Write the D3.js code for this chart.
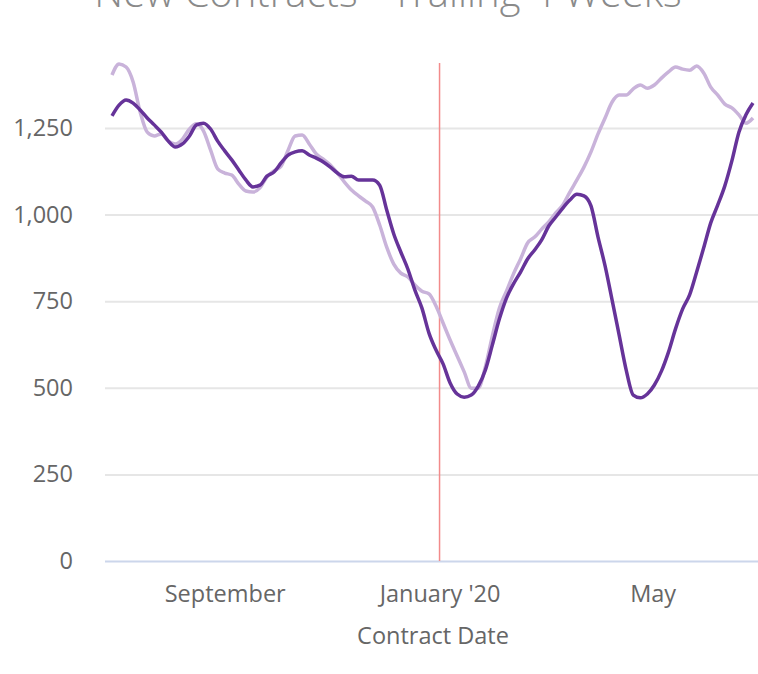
<!DOCTYPE html>
<html><head><meta charset="utf-8">
<script src="https://cdn.jsdelivr.net/npm/d3@7"></script>
<style>body{margin:0;background:#fff}svg{display:block}</style>
</head><body>
<svg id="chart" width="758" height="674"></svg>
<script>
const titleText = "New Contracts - Trailing 4 Weeks";
const xAxisTitle = "Contract Date";
const startDate = "2019-06-29";
const stepDays = 4;
const darkValues = [1285,1316,1331,1322,1302,1279,1259,1238,1212,1195,1204,1227,1259,1264,1247,1212,1184,1158,1129,1100,1080,1085,1111,1123,1149,1172,1181,1184,1172,1163,1152,1137,1120,1109,1111,1100,1100,1100,1085,1013,944,892,843,782,730,658,609,569,514,482,473,479,505,551,624,699,759,800,834,872,898,927,967,993,1019,1042,1059,1054,1025,935,852,753,652,551,479,471,482,508,548,603,670,727,768,834,904,976,1028,1083,1155,1238,1288,1322];
const lightValues = [1403,1435,1426,1383,1296,1238,1227,1233,1212,1204,1218,1247,1262,1241,1186,1132,1120,1114,1088,1068,1065,1077,1109,1126,1140,1186,1227,1230,1204,1175,1160,1143,1120,1094,1071,1054,1039,1022,970,906,857,831,820,797,779,771,736,687,638,592,546,499,499,560,650,730,779,829,872,918,935,958,979,1005,1028,1065,1100,1137,1181,1233,1279,1325,1345,1345,1363,1374,1365,1374,1394,1412,1426,1420,1417,1429,1409,1368,1345,1319,1308,1288,1264,1279];
const yTicks = [0,250,500,750,1000,1250];
const xTickDates = ["2019-09-01","2020-01-01","2020-05-01"];
const xTickLabels = ["September","January '20","May"];
const markerDate = "2020-01-01";

const parse = d3.timeParse("%Y-%m-%d");
const start = parse(startDate);
const dates = darkValues.map((_, i) => d3.timeDay.offset(start, i * stepDays));
const darkData = dates.map((d, i) => ({date: d, value: darkValues[i]}));
const lightData = dates.map((d, i) => ({date: d, value: lightValues[i]}));

const svg = d3.select("#chart");
const font = "'Open Sans', 'Noto Sans', sans-serif";
const plotLeft = 105, plotRight = 758, plotTop = 63, plotBottom = 561;

const x = d3.scaleTime().domain([dates[0], dates[dates.length - 1]]).range([112, 753]);
const y = d3.scaleLinear().domain([0, 1250]).range([561, 128]);

// title (cut off at top, as in the reference)
svg.append("text").attr("x", 388).attr("y", 7).attr("text-anchor", "middle")
  .attr("font-family", font).attr("font-weight", 300).attr("font-size", 40)
  .attr("fill", "#8a8a8a").text(titleText);

// grid
const yAxis = d3.axisLeft(y).tickValues(yTicks).tickSize(-(plotRight - plotLeft)).tickPadding(32)
  .tickFormat(d3.format(","));
const gy = svg.append("g").attr("transform", `translate(${plotLeft},0)`).call(yAxis);
gy.select(".domain").remove();
gy.selectAll(".tick line").attr("stroke", "#e6e6e6").attr("stroke-width", 2)
  .filter(d => d === 0).attr("stroke", "#ccd6eb");
gy.selectAll(".tick text").attr("font-family", font).attr("font-size", 23.5).attr("fill", "#666");

// marker line
svg.append("line").attr("x1", x(parse(markerDate))).attr("x2", x(parse(markerDate)))
  .attr("y1", plotTop).attr("y2", plotBottom).attr("stroke", "#f28b8b").attr("stroke-width", 1.5);

// x axis
const xAxis = d3.axisBottom(x).tickValues(xTickDates.map(parse)).tickSize(0).tickPadding(24)
  .tickFormat((d, i) => xTickLabels[i]);
const gx = svg.append("g").attr("transform", `translate(0,${plotBottom})`).call(xAxis);
gx.select(".domain").remove();
gx.selectAll(".tick text").attr("font-family", font).attr("font-size", 23.5).attr("fill", "#666");

svg.append("text").attr("x", 433).attr("y", 644).attr("text-anchor", "middle")
  .attr("font-family", font).attr("font-size", 23.5).attr("fill", "#666").text(xAxisTitle);

const line = d3.line().x(d => x(d.date)).y(d => y(d.value)).curve(d3.curveMonotoneX);
svg.append("path").datum(lightData).attr("d", line).attr("fill", "none")
  .attr("stroke", "#c9b3da").attr("stroke-width", 3.5).attr("stroke-linejoin", "round");
svg.append("path").datum(darkData).attr("d", line).attr("fill", "none")
  .attr("stroke", "#663399").attr("stroke-width", 3.5).attr("stroke-linejoin", "round");
</script>
</body></html>
